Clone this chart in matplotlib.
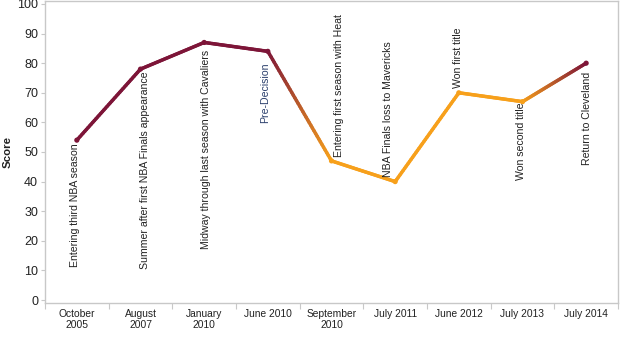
import numpy as np
import matplotlib
matplotlib.use("Agg")
import matplotlib.pyplot as plt
from matplotlib.collections import LineCollection
from matplotlib.colors import to_rgb

plt.rcParams['font.family'] = ['Liberation Sans', 'DejaVu Sans']

# ---- data ----
categories = ["October\n2005", "August\n2007", "January\n2010", "June 2010",
              "September\n2010", "July 2011", "June 2012", "July 2013", "July 2014"]
scores = [54, 78, 87, 84, 47, 40, 70, 67, 80]
events = ["Entering third NBA season",
          "Summer after first NBA Finals appearance",
          "Midway through last season with Cavaliers",
          "Pre-Decision",
          "Entering first season with Heat",
          "NBA Finals loss to Mavericks",
          "Won first title",
          "Won second title",
          "Return to Cleveland"]
team = ["Cavaliers", "Cavaliers", "Cavaliers", "Cavaliers",
        "Heat", "Heat", "Heat", "Heat", "Cavaliers"]
y_ticks = [0, 10, 20, 30, 40, 50, 60, 70, 80, 90, 100]

# ---- styles ----
team_colors = {"Cavaliers": "#7d1538", "Heat": "#f7a01b"}
# label placement: (dx px, dy px, va)
label_style = [(-2, -3, "top"), (5, -2, "top"), (2, -7, "top"), (-3, -11, "top"),
               (7, 4, "bottom"), (-7, 5, "bottom"), (-1, 5, "bottom"),
               (-2, -1, "top"), (1, -9, "top")]
label_colors = ["#222222"] * 3 + ["#2b3f6c"] + ["#222222"] * 5

fig = plt.figure(figsize=(6.2, 3.37), dpi=100)
ax = fig.add_axes([45 / 620, 1 - 303 / 337, 573 / 620, 302 / 337])

x = np.arange(len(categories))
cols = [np.array(to_rgb(team_colors[t])) for t in team]

segs, segcols = [], []
nsub = 40
for i in range(len(x) - 1):
    c0, c1 = cols[i], cols[i + 1]
    for k in range(nsub):
        t0, t1 = k / nsub, (k + 1) / nsub
        p0 = (x[i] + (x[i + 1] - x[i]) * t0, scores[i] + (scores[i + 1] - scores[i]) * t0)
        p1 = (x[i] + (x[i + 1] - x[i]) * t1, scores[i] + (scores[i + 1] - scores[i]) * t1)
        segs.append([p0, p1])
        tm = (t0 + t1) / 2
        segcols.append(c0 * (1 - tm) + c1 * tm)
lc = LineCollection(segs, colors=segcols, linewidths=2.5, capstyle="round", joinstyle="round")
ax.add_collection(lc)
ax.scatter(x, scores, s=14, c=cols, zorder=3, linewidths=0)

for i, (ev, sc) in enumerate(zip(events, scores)):
    dx, dy, va = label_style[i]
    ax.annotate(ev, (x[i], sc), xytext=(dx, dy), textcoords="offset pixels",
                rotation=90, ha="center", va=va, fontsize=7.6, color=label_colors[i])

ax.set_xlim(-0.5, len(categories) - 0.5)
ax.set_ylim(-1, 101)
ax.set_xticks(x)
ax.set_xticklabels(categories, fontsize=7.4, color="#222222", linespacing=1.15)
ax.set_xticks(np.arange(len(categories) + 1) - 0.5, minor=True)
ax.tick_params(axis="x", which="major", length=0, pad=4)
ax.tick_params(axis="x", which="minor", length=4, color="#c8c8c8", width=0.8)
ax.set_yticks(y_ticks)
ax.set_yticklabels([str(v) for v in y_ticks], fontsize=9, color="#222222")
ax.tick_params(axis="y", length=3, color="#c8c8c8", width=0.8, pad=2)
ax.set_ylabel("Score", fontsize=8.2, fontweight="bold", labelpad=3, color="#222222")

for s in ax.spines.values():
    s.set_color("#c8c8c8")
    s.set_linewidth(1.0)

fig.savefig("out.png", dpi=100)
